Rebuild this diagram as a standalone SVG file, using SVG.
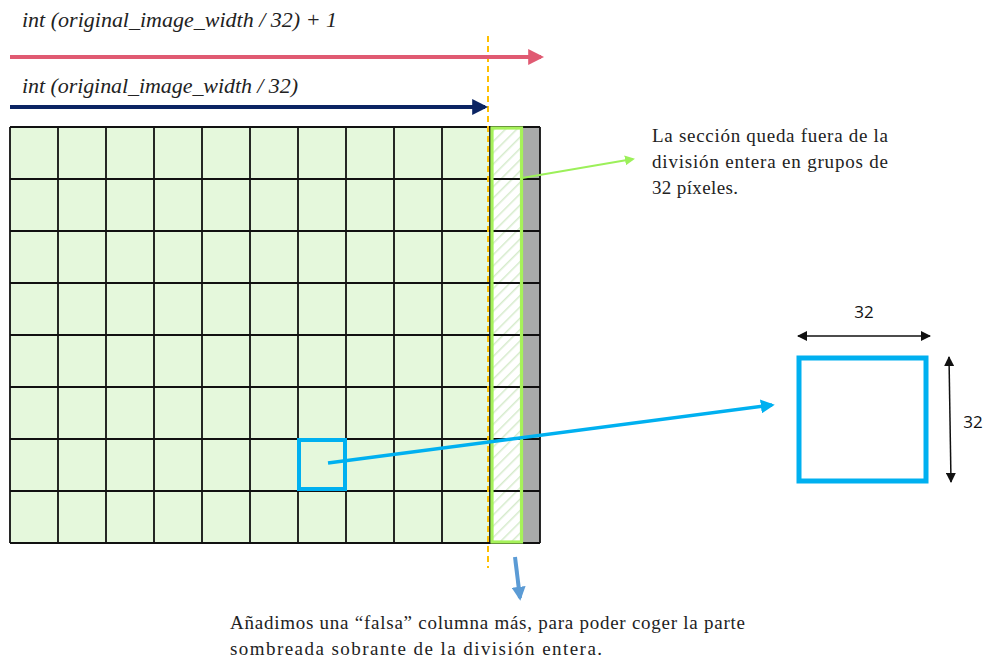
<svg xmlns="http://www.w3.org/2000/svg" width="985" height="662" viewBox="0 0 985 662">
<style>
.ser{font-family:"Liberation Serif","DejaVu Serif",serif;fill:#222;}
.it{font-style:italic;font-size:22px;}
.lbl{font-size:19px;}
.sans{font-family:"Open Sans","Liberation Sans",sans-serif;font-size:17px;fill:#111;}
.grid{stroke:#111;stroke-width:1.8;fill:none;}
</style>
<defs>
<pattern id="hatch" patternUnits="userSpaceOnUse" width="8" height="8" patternTransform="rotate(45)">
<rect width="8" height="8" fill="#fff"/>
<line x1="0" y1="0" x2="0" y2="8" stroke="#d6ebcc" stroke-width="3"/>
</pattern>
<marker id="mPink" markerWidth="4" markerHeight="4" refX="3.2" refY="2" orient="auto" markerUnits="strokeWidth"><path d="M0,0L4,2L0,4z" fill="#E05A72"/></marker>
<marker id="mNavy" markerWidth="4" markerHeight="4" refX="3.2" refY="2" orient="auto" markerUnits="strokeWidth"><path d="M0,0L4,2L0,4z" fill="#0B2463"/></marker>
<marker id="mGreen" markerWidth="5" markerHeight="5" refX="4" refY="2.5" orient="auto" markerUnits="strokeWidth"><path d="M0,0L5,2.5L0,5z" fill="#9CF05A"/></marker>
<marker id="mBlue" markerWidth="4" markerHeight="4" refX="3.2" refY="2" orient="auto" markerUnits="strokeWidth"><path d="M0,0L4,2L0,4z" fill="#00B0F0"/></marker>
<marker id="mSteel" markerWidth="3.5" markerHeight="3.5" refX="2.8" refY="1.75" orient="auto" markerUnits="strokeWidth"><path d="M0,0L3.5,1.75L0,3.5z" fill="#5B9BD5"/></marker>
<marker id="mBlk" markerWidth="10" markerHeight="10" refX="9" refY="5" orient="auto-start-reverse" markerUnits="userSpaceOnUse"><path d="M0,0L10,5L0,10z" fill="#111"/></marker>
</defs>

<g id="label-top1"><text class="ser it" x="22" y="27" textLength="315" lengthAdjust="spacing">int (original_image_width / 32) + 1</text></g>
<g id="label-top2"><text class="ser it" x="22" y="93" textLength="276" lengthAdjust="spacing">int (original_image_width / 32)</text></g>

<g id="grid">
<rect x="10" y="127" width="480" height="416" fill="#E5F8DC"/>
<rect x="490" y="127" width="32" height="416" fill="url(#hatch)"/>
<rect x="522" y="127" width="18" height="416" fill="#A9ABAA"/>
<path class="grid" d="M10,127V543M58,127V543M106,127V543M154,127V543M202,127V543M250,127V543M298,127V543M346,127V543M394,127V543M442,127V543M490,127V543M540,127V543
M10,127H540M10,179H540M10,231H540M10,283H540M10,335H540M10,387H540M10,439H540M10,491H540M10,543H540"/>
</g>

<g id="extra-column"><rect x="492" y="128" width="29.5" height="414" fill="none" stroke="#A6F25A" stroke-width="3.2"/></g>

<g id="small-square"><rect x="299" y="440" width="46" height="49" fill="none" stroke="#00B0F0" stroke-width="4"/></g>

<g id="big-square"><rect x="799" y="358" width="127" height="123" fill="none" stroke="#00B0F0" stroke-width="5"/></g>

<g id="callout-right"><text class="ser lbl"><tspan x="652" y="142" textLength="236" lengthAdjust="spacing">La sección queda fuera de la</tspan><tspan x="652" y="168" textLength="236" lengthAdjust="spacing">división entera en grupos de</tspan><tspan x="652" y="194" textLength="86" lengthAdjust="spacing">32 píxeles.</tspan></text></g>

<g id="callout-bottom"><text class="ser lbl"><tspan x="230" y="629" textLength="515" lengthAdjust="spacing">Añadimos una “falsa” columna más, para poder coger la parte</tspan><tspan x="230" y="655" textLength="372" lengthAdjust="spacing">sombreada sobrante de la división entera.</tspan></text></g>

<g id="dim-labels">
<text class="sans" x="864" y="318" text-anchor="middle">32</text>
<text class="sans" x="973" y="428" text-anchor="middle">32</text>
</g>

<g id="connectors">
<line x1="488" y1="36" x2="488" y2="568" stroke="#FFC000" stroke-width="2" stroke-dasharray="6,4"/>
<line x1="10" y1="57" x2="541" y2="57" stroke="#E05A72" stroke-width="4" marker-end="url(#mPink)"/>
<line x1="10" y1="107" x2="485" y2="107" stroke="#0B2463" stroke-width="4" marker-end="url(#mNavy)"/>
<line x1="522" y1="178" x2="633" y2="159" stroke="#9CF05A" stroke-width="2" marker-end="url(#mGreen)"/>
<line x1="328" y1="463" x2="772" y2="405" stroke="#00B0F0" stroke-width="3.5" marker-end="url(#mBlue)"/>
<line x1="515" y1="557" x2="520" y2="598" stroke="#5B9BD5" stroke-width="4" marker-end="url(#mSteel)"/>
<line x1="798" y1="336" x2="930" y2="336" stroke="#111" stroke-width="1.5" marker-start="url(#mBlk)" marker-end="url(#mBlk)"/>
<line x1="949" y1="357" x2="951" y2="482" stroke="#111" stroke-width="1.5" marker-start="url(#mBlk)" marker-end="url(#mBlk)"/>
</g>
</svg>
